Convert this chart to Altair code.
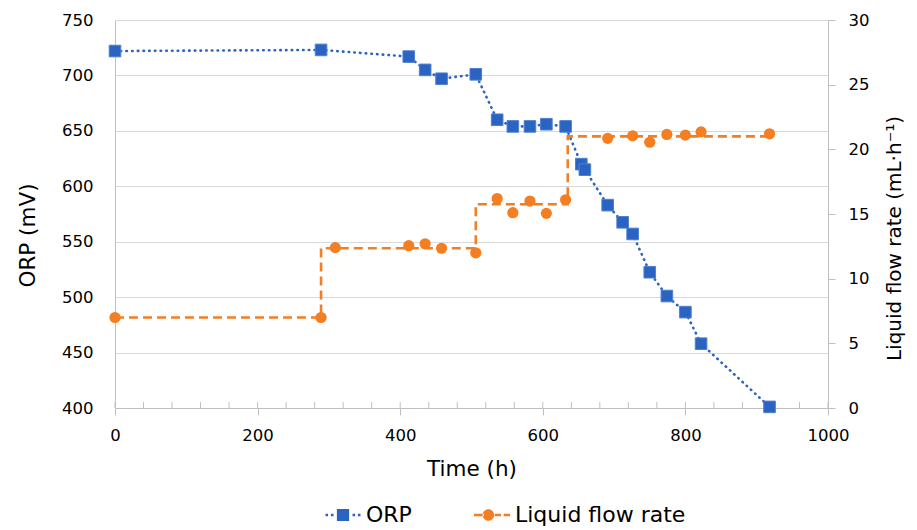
import altair as alt
import pandas as pd

# ---- data ----
time_orp = [0, 289, 412, 435, 458, 506, 536, 558, 582, 605, 632, 654, 659, 691, 712, 726, 750, 774, 800, 822, 918]
orp_mv = [722, 723, 717, 705, 697, 701, 660, 654, 654, 656, 654, 620, 615, 583, 567.5, 557, 522.5, 501, 486.5, 458, 401]

time_flow = [0, 289, 309, 412, 435, 458, 506, 536, 558, 582, 605, 632, 691, 726, 750, 774, 800, 822, 918]
flow_ml_h = [7.0, 7.0, 12.4, 12.55, 12.7, 12.35, 12.0, 16.2, 15.1, 16.0, 15.05, 16.1, 20.85, 21.05, 20.55, 21.15, 21.1, 21.35, 21.2]

time_setpoint = [0, 289, 506, 635, 918]
flow_setpoint = [7.0, 12.35, 15.75, 21.0, 21.0]

x_ticks = [0, 200, 400, 600, 800, 1000]
x_minor = list(range(0, 1001, 40))
orp_ticks = [400, 450, 500, 550, 600, 650, 700, 750]
flow_ticks = [0, 5, 10, 15, 20, 25, 30]
series = ["ORP", "Liquid flow rate"]

BLUE = "#2A63C2"
ORANGE = "#F47E22"
GRAY = "#BFBFBF"
GRID = "#D9D9D9"
FONT = "DejaVu Sans"
TICK_FS = 16.5
TITLE_FS = 21.5

df_orp = pd.DataFrame({"t": time_orp, "orp": orp_mv})
df_flow = pd.DataFrame({"t": time_flow, "flow": flow_ml_h})
df_set = pd.DataFrame({"t": time_setpoint, "flow": flow_setpoint})
df_minor = pd.DataFrame({"t": x_minor})
df_series = pd.DataFrame({"series": series})

# legend symbols as custom paths (unit box [-1,1])
def rect(x0, x1, h):
    return f"M{x0},{-h}L{x1},{-h}L{x1},{h}L{x0},{h}Z"

def circle(cx, r):
    return f"M{cx - r},0A{r},{r} 0 1,0 {cx + r},0A{r},{r} 0 1,0 {cx - r},0Z"

d = 0.07
path_orp = " ".join([rect(-0.97, -0.83, d), rect(-0.67, -0.53, d), rect(-0.34, 0.34, 0.34),
                     rect(0.53, 0.67, d), rect(0.83, 0.97, d)])
path_flow = " ".join([rect(-1.0, -0.45, d), circle(-0.2, 0.32), rect(0.15, 0.5, d), rect(0.65, 1.0, d)])

xscale = alt.Scale(domain=[0, 1000], nice=False)
orp_scale = alt.Scale(domain=[400, 750], nice=False, zero=False)
flow_scale = alt.Scale(domain=[0, 30], nice=False)

common = dict(labelFontSize=TICK_FS, labelFont=FONT, titleFont=FONT,
              labelColor="black", titleColor="black", titleFontWeight="normal", format="d",
              labelFlush=False, labelOverlap=False)

x_axis = alt.Axis(values=x_ticks, title="Time (h)", grid=False, domainColor=GRAY, tickColor=GRAY,
                  tickSize=7, labelPadding=12, titlePadding=15, titleFontSize=TITLE_FS, **common)
orp_axis = alt.Axis(values=orp_ticks, title="ORP (mV)", orient="left", grid=True, gridColor=GRID,
                    domainColor=GRAY, ticks=False, labelPadding=22, titlePadding=22, titleY=215,
                    titleFontSize=TITLE_FS, **common)
flow_axis = alt.Axis(values=flow_ticks, title="Liquid flow rate (mL·h⁻¹)", orient="right", grid=False,
                     domainColor=GRAY, tickColor=GRAY, tickSize=7, labelPadding=13, titlePadding=16,
                     titleAngle=270, titleBaseline="top", titleY=218, titleFontSize=20, **common)

minor = alt.Chart(df_minor).mark_rule(color=GRAY, strokeWidth=1).encode(
    x=alt.X("t:Q", scale=xscale, axis=x_axis), y=alt.value(388), y2=alt.value(382))

orp_line = alt.Chart(df_orp).mark_line(color=BLUE, strokeWidth=2.6, strokeDash=[0.5, 5.2], strokeCap="round").encode(
    x=alt.X("t:Q", scale=xscale, axis=x_axis),
    y=alt.Y("orp:Q", scale=orp_scale, axis=orp_axis))
orp_pts = alt.Chart(df_orp).mark_point(shape="square", filled=True, size=135, color=BLUE, opacity=1,
                                       stroke="#4F80D0", strokeWidth=1).encode(
    x=alt.X("t:Q", scale=xscale), y=alt.Y("orp:Q", scale=orp_scale))

legend_cfg = alt.Legend(title=None, orient="none", legendX=210, legendY=477, direction="horizontal",
                        columns=2, symbolSize=1296, symbolOpacity=1, symbolStrokeWidth=0,
                        labelFontSize=22, labelFont=FONT, labelColor="black", labelOffset=5,
                        columnPadding=62, padding=0, labelLimit=400)
legend_layer = alt.Chart(df_series).mark_point(filled=True, opacity=0).encode(
    x=alt.value(0), y=alt.value(0),
    color=alt.Color("series:N", scale=alt.Scale(domain=series, range=[BLUE, ORANGE]), legend=legend_cfg),
    shape=alt.Shape("series:N", scale=alt.Scale(domain=series, range=[path_orp, path_flow]), legend=legend_cfg))

orp_layer = alt.layer(minor, orp_line, orp_pts, legend_layer)

step = alt.Chart(df_set).mark_line(color=ORANGE, strokeWidth=2.6, strokeDash=[9, 5], interpolate="step-after").encode(
    x=alt.X("t:Q", scale=xscale),
    y=alt.Y("flow:Q", scale=flow_scale, axis=flow_axis))
flow_pts = alt.Chart(df_flow).mark_point(shape="circle", filled=True, size=125, color=ORANGE, opacity=1).encode(
    x=alt.X("t:Q", scale=xscale), y=alt.Y("flow:Q", scale=flow_scale))
flow_layer = alt.layer(step, flow_pts)

chart = alt.layer(orp_layer, flow_layer).resolve_scale(y="independent", shape="independent", color="independent").properties(
    width=713, height=388,
    autosize=alt.AutoSizeParams(type="none"),
    padding={"left": 115, "top": 20, "right": 89, "bottom": 122},
    background="white",
).configure_view(stroke=None)

chart.save("out.html", embed_options={"renderer": "svg", "actions": False})
